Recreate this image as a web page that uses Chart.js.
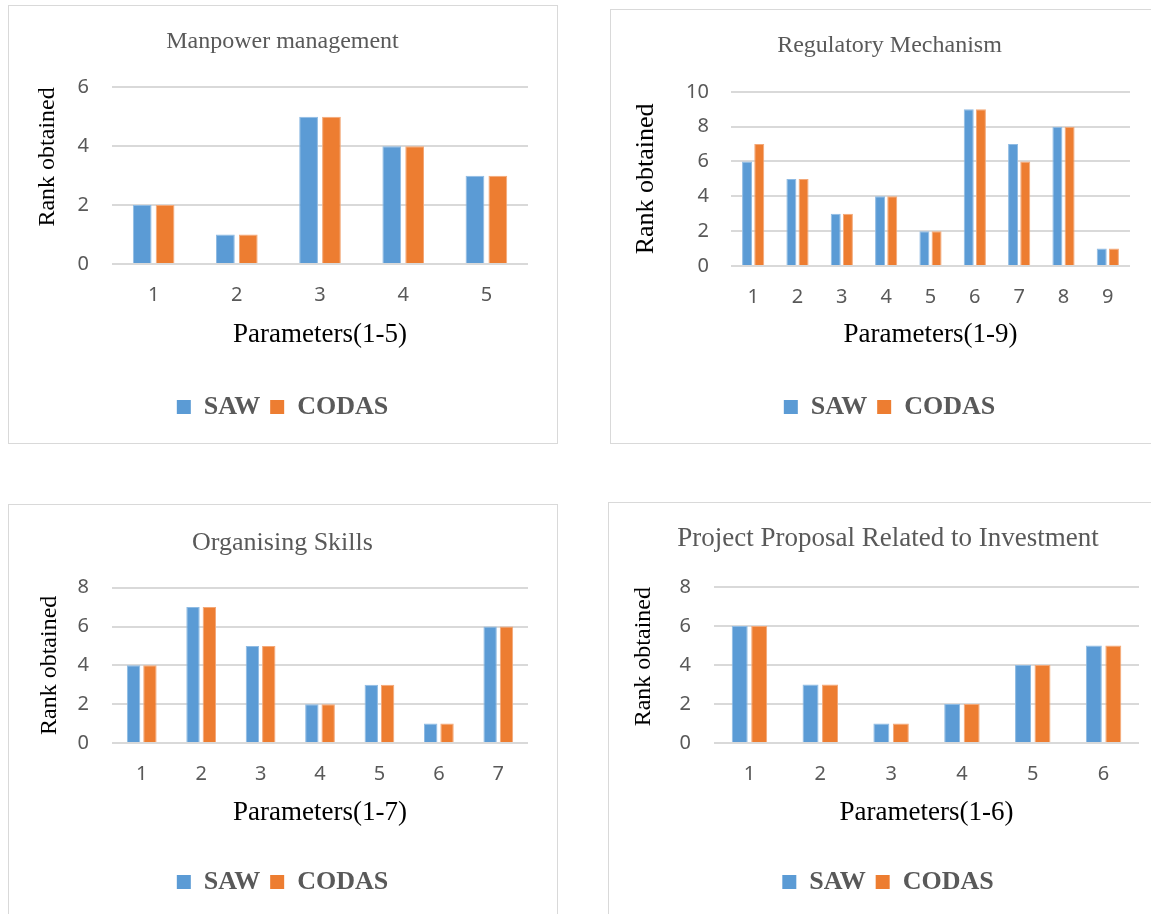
<!DOCTYPE html>
<html>
<head>
<meta charset="utf-8">
<script src="https://cdn.jsdelivr.net/npm/chart.js@4/dist/chart.umd.min.js"></script>
<style>
    body { margin: 0; background: #fff; width: 1151px; height: 914px; overflow: hidden; position: relative; }
    .panel { position: absolute; border: 1px solid #d9d9d9; box-sizing: border-box; background: #fff; }
    .panel canvas { display: block; }
</style>
</head>
<body>
<div class="panel" id="p1" style="left:8px; top:5px; width:550px; height:439px;"><canvas id="c1" width="548" height="437"></canvas></div>
<div class="panel" id="p2" style="left:610px; top:9px; width:550px; height:435px;"><canvas id="c2" width="548" height="433"></canvas></div>
<div class="panel" id="p3" style="left:8px; top:504px; width:550px; height:430px;"><canvas id="c3" width="548" height="428"></canvas></div>
<div class="panel" id="p4" style="left:608px; top:502px; width:552px; height:430px;"><canvas id="c4" width="550" height="428"></canvas></div>
<script>
// data
const seriesNames = ['SAW', 'CODAS'];

const manpowerParams = ['1', '2', '3', '4', '5'];
const manpowerSaw = [2, 1, 5, 4, 3];
const manpowerCodas = [2, 1, 5, 4, 3];
const manpowerYMax = 6;

const regulatoryParams = ['1', '2', '3', '4', '5', '6', '7', '8', '9'];
const regulatorySaw = [6, 5, 3, 4, 2, 9, 7, 8, 1];
const regulatoryCodas = [7, 5, 3, 4, 2, 9, 6, 8, 1];
const regulatoryYMax = 10;

const organisingParams = ['1', '2', '3', '4', '5', '6', '7'];
const organisingSaw = [4, 7, 5, 2, 3, 1, 6];
const organisingCodas = [4, 7, 5, 2, 3, 1, 6];
const organisingYMax = 8;

const projectParams = ['1', '2', '3', '4', '5', '6'];
const projectSaw = [6, 3, 1, 2, 4, 5];
const projectCodas = [6, 3, 1, 2, 4, 5];
const projectYMax = 8;

const yStep = 2;

const SERIF = "'Liberation Serif', 'Times New Roman', serif";
const SANS = "'Noto Sans', 'Open Sans', sans-serif";
const GREY = '#595959';

Chart.defaults.animation = false;

// note: chart.js counts ticks.padding twice when it sizes an axis,
// so some title paddings below are negative to pull things back
function makeChart(canvasId, o) {
    const ctx = document.getElementById(canvasId).getContext('2d');
    return new Chart(ctx, {
        type: 'bar',
        data: {
            labels: o.labels,
            datasets: [{
                label: seriesNames[0],
                data: o.saw,
                backgroundColor: '#5B9BD5',
                borderColor: '#8fbbe3',
                borderWidth: 1,
                categoryPercentage: 0.55,
                barPercentage: 0.82
            }, {
                label: seriesNames[1],
                data: o.codas,
                backgroundColor: '#ED7D31',
                borderColor: '#f3a878',
                borderWidth: 1,
                categoryPercentage: 0.55,
                barPercentage: 0.82
            }]
        },
        options: {
            responsive: false,
            layout: { padding: o.pad },
            plugins: {
                title: {
                    display: true,
                    text: o.title,
                    color: GREY,
                    font: { family: SERIF, size: o.titleSize, weight: 'normal' },
                    padding: o.titlePad
                },
                legend: {
                    position: 'bottom',
                    labels: {
                        color: GREY,
                        boxWidth: 14,
                        boxHeight: 14,
                        padding: 10,
                        font: { family: SERIF, size: 26, weight: 'bold' },
                        generateLabels: chart => Chart.defaults.plugins.legend.labels.generateLabels(chart)
                            .map(item => ({ ...item, lineWidth: 0 }))
                    }
                },
                tooltip: { enabled: false }
            },
            scales: {
                x: {
                    grid: { display: false, drawTicks: false },
                    border: { display: false },
                    ticks: { color: GREY, padding: 19, font: { family: SANS, size: 20 } },
                    title: {
                        display: true,
                        text: o.xTitle,
                        color: '#000',
                        font: { family: SERIF, size: 27 },
                        padding: o.xTitlePad
                    }
                },
                y: {
                    min: 0,
                    max: o.yMax,
                    grid: { color: '#d9d9d9', lineWidth: 2, drawTicks: false },
                    border: { display: false },
                    ticks: { stepSize: yStep, color: GREY, padding: o.yTickPad, font: { family: SANS, size: 20 } },
                    title: {
                        display: true,
                        text: 'Rank obtained',
                        align: o.yTitleAlign,
                        color: '#000',
                        font: { family: SERIF, size: o.yTitleSize },
                        padding: o.yTitlePad
                    }
                }
            }
        }
    });
}

makeChart('c1', {
    labels: manpowerParams, saw: manpowerSaw, codas: manpowerCodas, yMax: manpowerYMax,
    title: 'Manpower management', titleSize: 24, xTitle: 'Parameters(1-5)',
    pad: { top: 10, bottom: 13, left: 28, right: 29 },
    titlePad: { top: 11.5, bottom: 31 },
    xTitlePad: { top: -7.2, bottom: 32.8 },
    yTitleAlign: 'end', yTitleSize: 24, yTitlePad: { top: -3.4, bottom: -7.8 }, yTickPad: 23
});

makeChart('c2', {
    labels: regulatoryParams, saw: regulatorySaw, codas: regulatoryCodas, yMax: regulatoryYMax,
    title: 'Regulatory Mechanism', titleSize: 24, xTitle: 'Parameters(1-9)',
    pad: { top: 10, bottom: 13, left: 38, right: 29 },
    titlePad: { top: 11, bottom: 32 },
    xTitlePad: { top: -9.2, bottom: 32.8 },
    yTitleAlign: 'center', yTitleSize: 26, yTitlePad: { top: -18, bottom: 1.9 }, yTickPad: 22
});

makeChart('c3', {
    labels: organisingParams, saw: organisingSaw, codas: organisingCodas, yMax: organisingYMax,
    title: 'Organising Skills', titleSize: 26, xTitle: 'Parameters(1-7)',
    pad: { top: 10, bottom: 28, left: 28, right: 29 },
    titlePad: { top: 12.5, bottom: 29 },
    xTitlePad: { top: -8.2, bottom: 29.8 },
    yTitleAlign: 'center', yTitleSize: 24, yTitlePad: { top: -1.4, bottom: -9.8 }, yTickPad: 23
});

makeChart('c4', {
    labels: projectParams, saw: projectSaw, codas: projectCodas, yMax: projectYMax,
    title: 'Project Proposal Related to Investment', titleSize: 27, xTitle: 'Parameters(1-6)',
    pad: { top: 10, bottom: 26, left: 28, right: 20 },
    titlePad: { top: 9.8, bottom: 31.8 },
    xTitlePad: { top: -8.2, bottom: 29.8 },
    yTitleAlign: 'end', yTitleSize: 24, yTitlePad: { top: -7.4, bottom: -1.8 }, yTickPad: 23
});
</script>
</body>
</html>
